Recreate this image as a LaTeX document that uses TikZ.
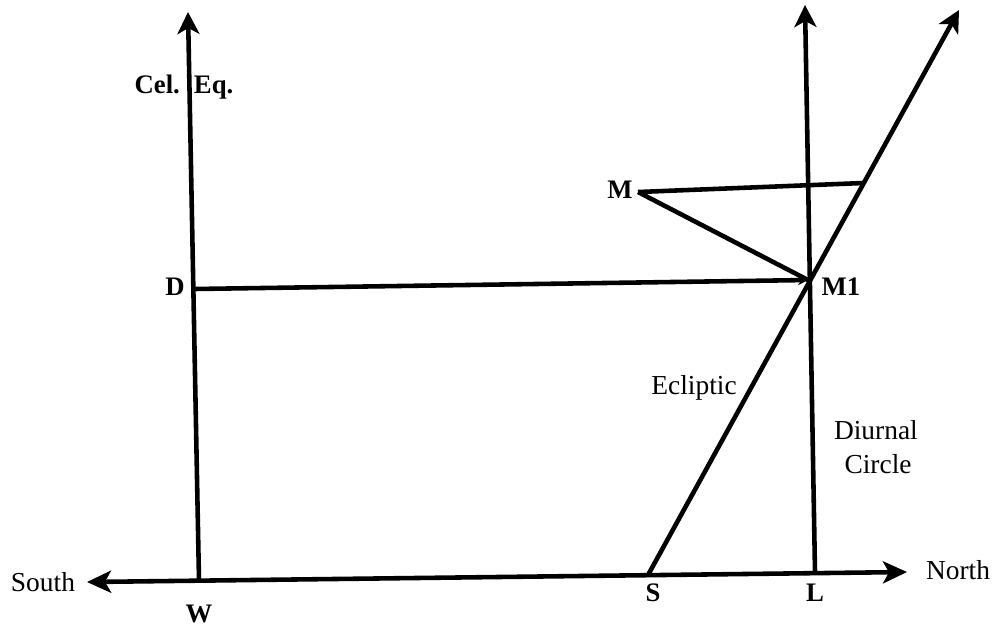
\documentclass[tikz,border=0pt]{standalone}
\usepackage{fontspec}
\setmainfont{Liberation Serif}
\usetikzlibrary{arrows.meta}
\begin{document}
\begin{tikzpicture}[x=0.01cm, y=-0.01cm, line width=1.3pt, line join=round,
  fleche/.style={-{Stealth[length=2.2mm,width=2.2mm,inset=0.6mm]}},
  etiq/.style={font=\fontsize{7.8}{9.5}\selectfont},
  etiqb/.style={font=\fontsize{7.6}{9}\selectfont\bfseries}]
				\useasboundingbox (0,0) rectangle (995,626);

				% Points de l'horizon (sud -> nord)
				\coordinate (Sud) at (87,582);
				\coordinate (Nord) at (907,572);
				\coordinate (W) at (199,581);
				\coordinate (S) at (648,575);
				\coordinate (L) at (815,573);

				% Extrémités des flèches en haut
				\coordinate (W1) at (188,12);
				\coordinate (L1) at (805,5);
				\coordinate (E1) at (959,10);

				% Points de la Lune
				\coordinate (M) at (638,192);
				\coordinate (M1) at (808,280);
				\coordinate (D) at (193,289);
				\coordinate (P) at (863,183);

				% Horizon, équateur céleste, cercle diurne, écliptique
				\draw[{Stealth[length=2.4mm,width=2.2mm,inset=0.6mm]}-{Stealth[length=2.4mm,width=2.2mm,inset=0.6mm]}] (Sud) -- (Nord);
				\draw[fleche] (W) -- (W1);
				\draw[fleche] (L) -- (L1);
				\draw[fleche] (S) -- (E1);

				% Tracé de M vers M1 et vers l'écliptique
				\draw (M) -- (P);
				\draw (M) -- (M1);
				\draw[-{Stealth[length=1mm,width=1mm]}] (D) -- (M1);

				% Étiquettes
				\node[etiqb] (lcel) at (184,87) {Cel.\hskip 4pt Eq.};
				\node[etiqb] (lD) at (175,287) {D};
				\node[etiqb] (lM) at (620,190) {M};
				\node[etiqb] (lM1) at (841,287) {M1};
				\node[etiq] (lecl) at (694,388) {Ecliptic};
				\node[etiq, align=left, anchor=west] (ldiu) at (820,447) {Diurnal\\\hskip 3pt Circle};
				\node[etiq] (lsud) at (43,582) {South};
				\node[etiq] (lnord) at (958,570) {North};
				\node[etiqb] (lW) at (199,614) {W};
				\node[etiqb] (lS) at (653,593) {S};
				\node[etiqb] (lL) at (815,593) {L};
\end{tikzpicture}
\end{document}
